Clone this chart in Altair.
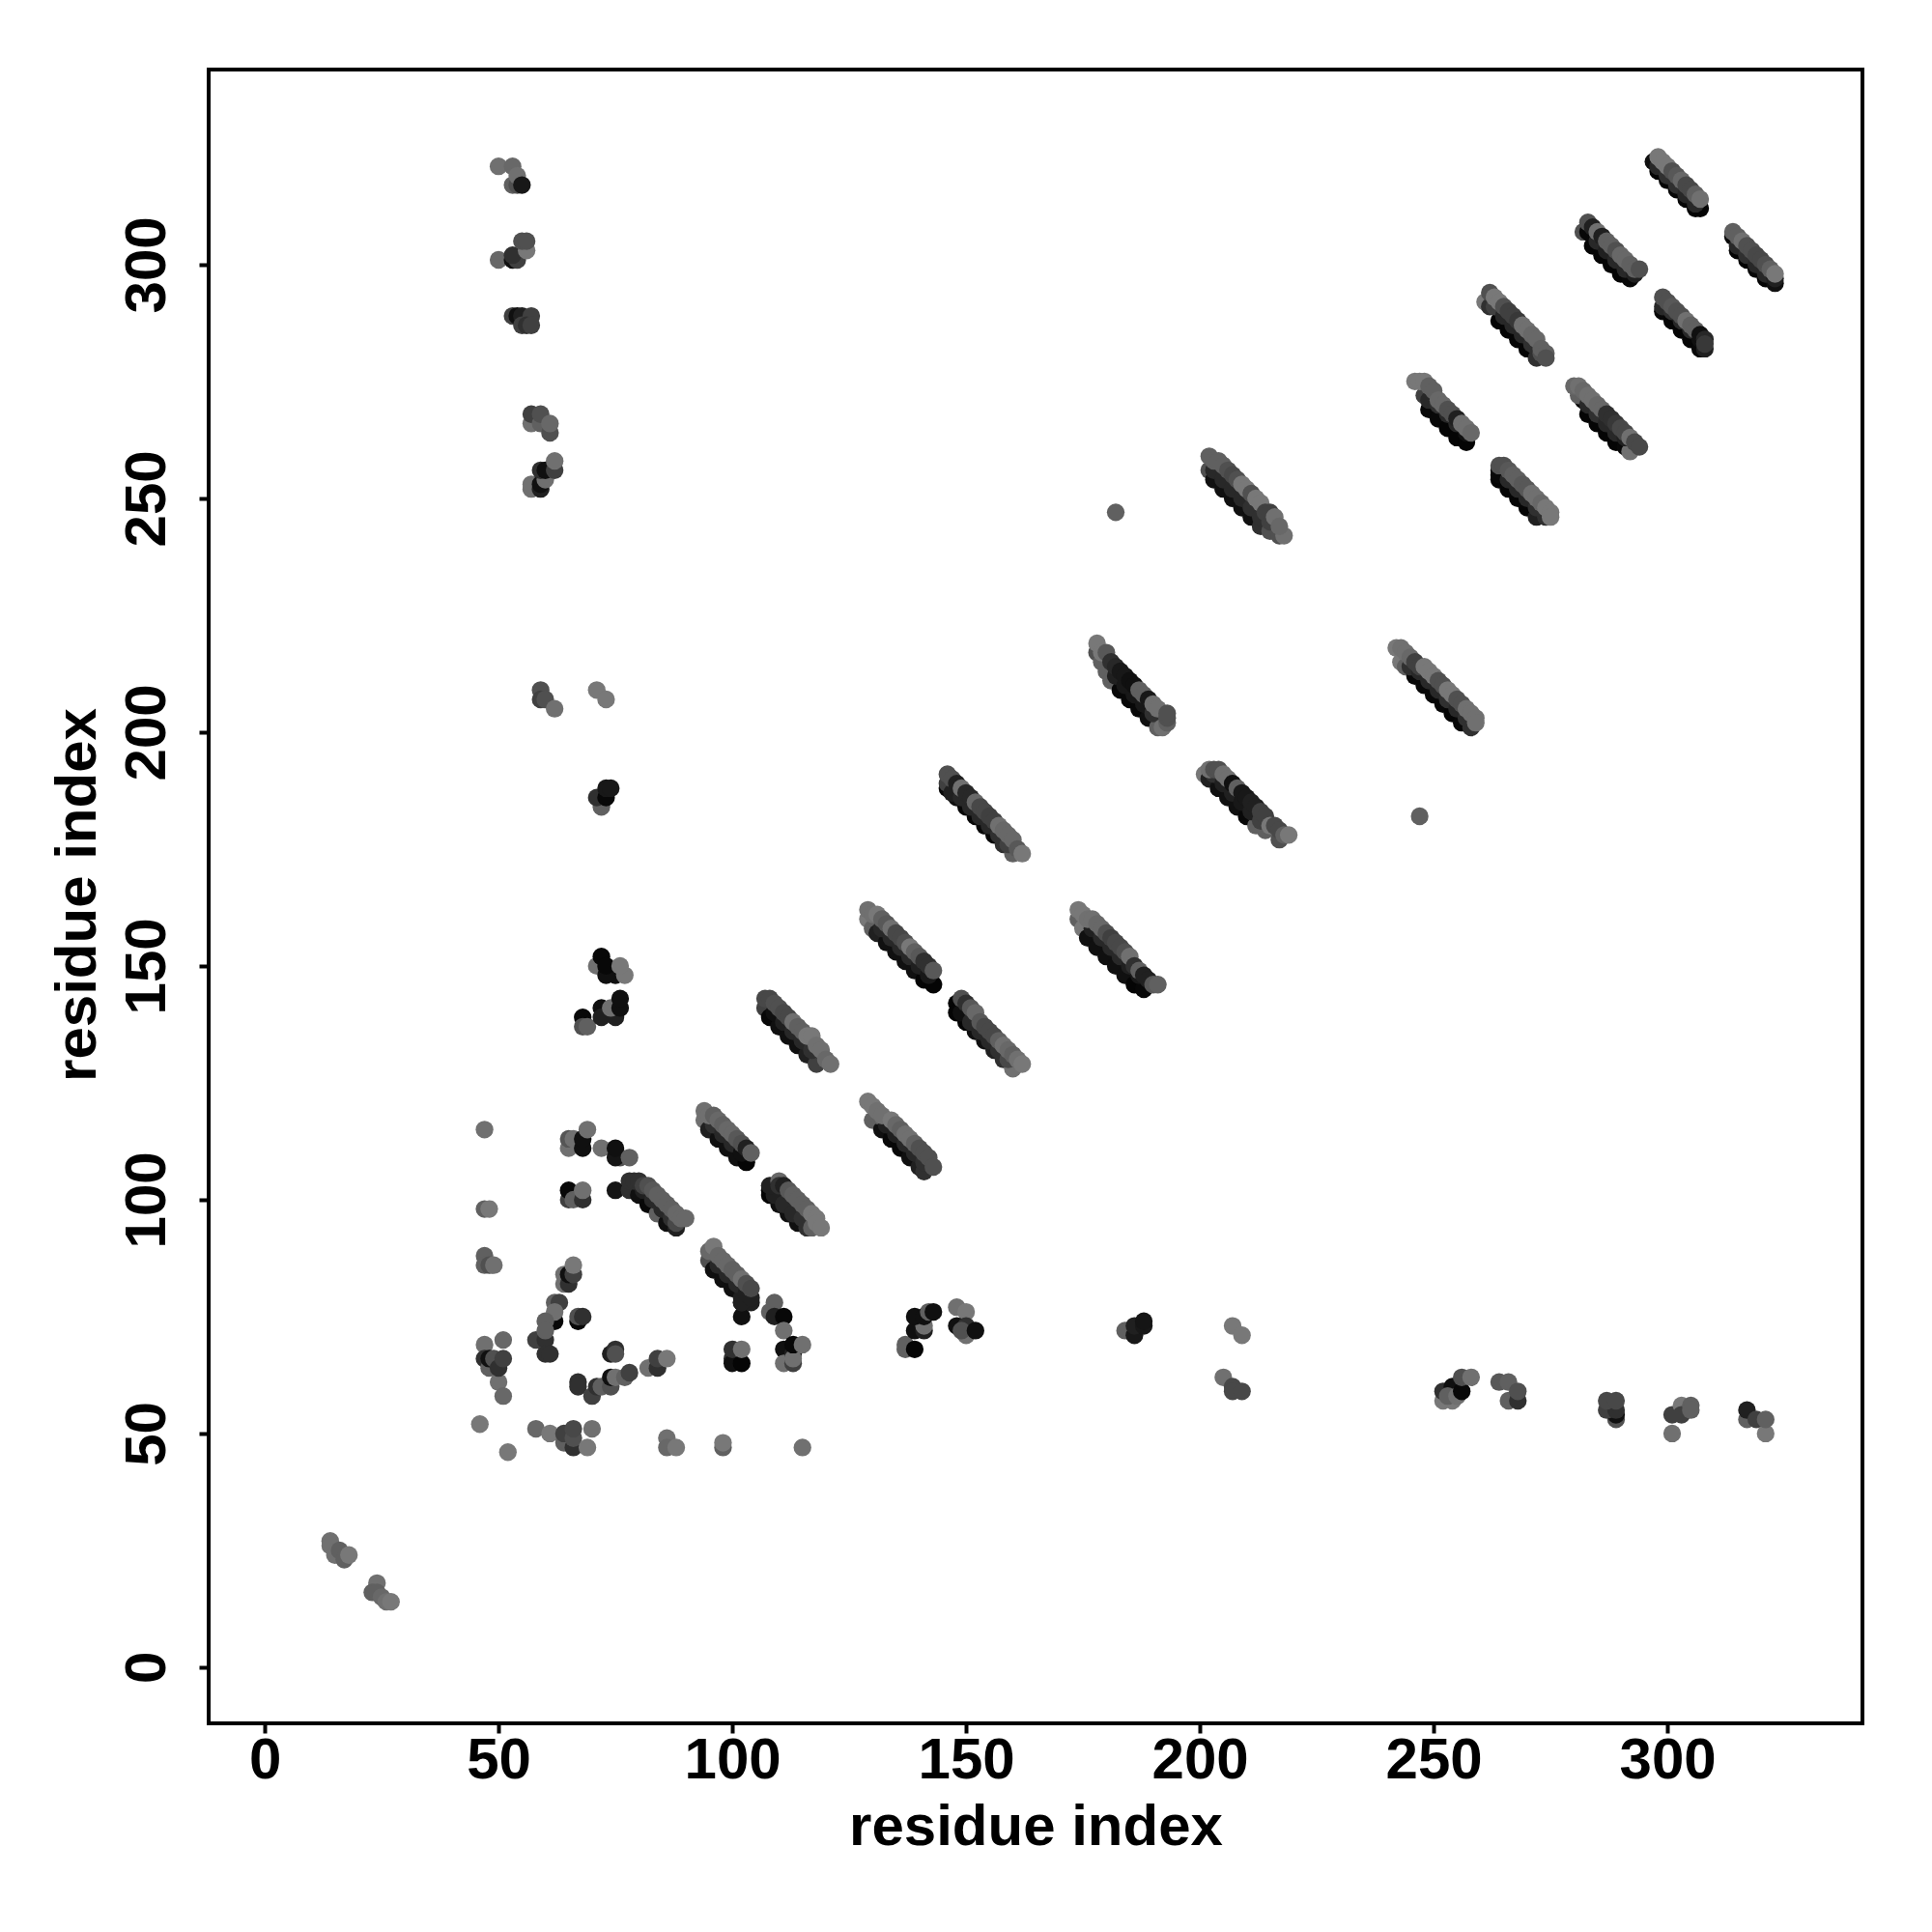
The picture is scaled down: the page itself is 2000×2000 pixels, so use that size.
import altair as alt
import pandas as pd

# every row: residue x, residue y, gray level of the point
near_origin = [(14,27,0x70),(14,26,0x70),(15,24,0x70),(16,25,0x60),(17,23,0x60),(18,24,0x78),
               (24,18,0x70),(23,16,0x60),(24,16,0x60),(25,15,0x68),(26,14,0x70),(27,14,0x78)]
scatter_low = [(47,115,0x70),(65,111,0x70),(65,113,0x55),(66,113,0x70),(68,111,0x10),(68,113,0x10),(69,115,0x70),
               (72,111,0x70),(76,109,0x50),(75,109,0x15),(75,111,0x10),(78,109,0x60),
               (65,100,0x40),(65,102,0x08),(66,100,0x60),(68,100,0x30),(68,102,0x70),(75,102,0x15),
               (47,98,0x60),(48,98,0x78),(47,88,0x60),(47,86,0x60),(48,86,0x50),(49,86,0x70),
               (64,84,0x70),(64,82,0x70),(65,82,0x30),(65,84,0x10),(66,84,0x40),(66,86,0x78),
               (62,74,0x08),(62,78,0x60),(63,78,0x40),(62,76,0x70),(58,70,0x40),(60,70,0x30),(60,74,0x60),(60,72,0x60),
               (60,67,0x30),(61,67,0x30),(67,74,0x08),(67,75,0x50),(68,75,0x30),
               (47,69,0x70),(51,70,0x68),(47,66,0x30),(48,64,0x60),(48,66,0x10),(49,66,0x50),(50,61,0x70),(51,58,0x68),(50,64,0x30),(51,66,0x40),
               (46,52,0x78),(52,46,0x78),(58,51,0x68),(61,50,0x78),(64,48,0x60),(65,48,0x60),(64,50,0x40),(66,47,0x30),(66,49,0x50),(66,51,0x48),(70,51,0x70),(69,47,0x78),
               (67,61,0x30),(67,60,0x30),(70,58,0x40),(71,60,0x30),(72,60,0x60),(74,60,0x50),(74,62,0x10),(75,62,0x70),(77,62,0x60),(78,63,0x40),
               (82,64,0x70),(84,64,0x30),(84,66,0x40),(86,66,0x78),(74,67,0x20),(75,68,0x30),(75,67,0x50),
               (86,49,0x70),(86,47,0x68),(88,47,0x78),(98,47,0x60),(98,48,0x78),(115,47,0x70),
               (100,66,0x30),(100,65,0x10),(102,65,0x05),(100,68,0x30),(102,68,0x70),(102,75,0x10),(102,78,0x20),(104,78,0x20),
               (108,76,0x60),(109,78,0x60),(109,75,0x20),(111,75,0x08),(111,72,0x70),
               (111,68,0x10),(111,65,0x70),(113,65,0x40),(113,67,0x20),(113,66,0x70),(113,69,0x08),(115,69,0x70)]
scatter_mid = [(137,69,0x60),(137,68,0x60),(139,68,0x05),(139,72,0x10),(141,72,0x20),(141,73,0x70),(139,75,0x10),(141,75,0x10),(142,76,0x60),(143,76,0x10),
               (148,77,0x70),(150,76,0x78),(150,71,0x70),(148,73,0x10),(150,73,0x30),(149,72,0x50),(152,72,0x10),
               (184,72,0x60),(186,71,0x18),(186,73,0x20),(188,73,0x18),(188,74,0x15),
               (207,73,0x78),(209,71,0x78),(205,62,0x70),(207,60,0x48),(207,59,0x48),(209,59,0x48),
               (182,247,0x60),(247,182,0x60)]
scatter_right = [(252,57,0x78),(254,57,0x78),(252,59,0x30),(254,60,0x10),(253,58,0x60),(255,58,0x70),(256,59,0x08),(256,62,0x50),(258,62,0x70),
                 (264,61,0x58),(266,61,0x60),(266,57,0x60),(268,57,0x30),(268,59,0x50),
                 (289,53,0x50),(289,54,0x10),(287,55,0x40),(289,55,0x30),(287,57,0x48),(289,57,0x48),
                 (301,50,0x70),(301,54,0x40),(303,56,0x78),(303,54,0x40),(305,56,0x60),(305,55,0x60),
                 (317,53,0x60),(317,55,0x20),(319,53,0x40),(321,50,0x78),(321,53,0x60)]
scatter_column = [(59,209,0x50),(59,207,0x40),(60,207,0x50),(62,205,0x70),(71,209,0x78),(73,207,0x78),
                  (72,184,0x60),(71,186,0x30),(73,186,0x08),(73,188,0x18),(74,188,0x18),
                  (71,150,0x70),(72,152,0x08),(75,148,0x10),(73,148,0x10),(73,150,0x08),(77,148,0x78),(76,150,0x78),
                  (68,139,0x08),(68,137,0x50),(69,137,0x60),(72,141,0x10),(72,139,0x20),(75,139,0x20),(74,141,0x70),(76,141,0x10),(76,143,0x10)]
scatter_top = [(50,321,0x70),(53,317,0x60),(54,317,0x50),(53,321,0x68),(54,319,0x70),(55,317,0x18),
               (50,301,0x68),(53,301,0x10),(54,301,0x40),(53,302,0x30),(56,303,0x78),(55,305,0x50),(56,305,0x50),
               (53,289,0x40),(54,289,0x10),(55,289,0x20),(57,289,0x40),(55,287,0x40),(56,287,0x30),(57,287,0x40),
               (57,266,0x70),(57,268,0x40),(59,266,0x60),(59,268,0x50),(61,264,0x50),(61,266,0x68),
               (57,252,0x70),(57,253,0x70),(59,252,0x20),(59,253,0x10),(60,254,0x70),(59,256,0x30),(60,256,0x10),(62,256,0x40),(62,258,0x70)]

# diagonal bands: dark lower edge first, then the row along the upper edge
band_01 = [(297,322,0x10),(298,320,0x05),(300,318,0x05),(302,316,0x08),(304,314,0x08),(306,312,0x05),(307,312,0x05),
           (298,321,0x28),(300,319,0x30),(302,317,0x30),(304,315,0x28),(306,313,0x28),
           (298,323,0x78),(299,322,0x78),(300,321,0x78),(301,320,0x50),(302,319,0x58),(303,318,0x68),(304,317,0x48),(305,316,0x48),(306,315,0x60),(307,314,0x70)]
band_02 = [(314,306,0x08),(315,303,0x05),(317,301,0x05),(319,299,0x08),(321,297,0x05),(323,296,0x10),
           (315,304,0x28),(317,302,0x30),(319,300,0x28),(321,298,0x28),(323,297,0x20),
           (314,307,0x60),(315,306,0x60),(316,305,0x70),(317,304,0x50),(318,303,0x50),(319,302,0x48),(320,301,0x48),(321,300,0x50),(322,299,0x60),(323,298,0x78)]
band_03 = [(282,307,0x50),(284,304,0x05),(286,302,0x05),(288,300,0x05),(290,298,0x05),(292,297,0x08),
           (283,307,0x08),(285,305,0x28),(287,303,0x20),(289,301,0x28),(291,299,0x28),(293,298,0x20),
           (283,309,0x50),(284,308,0x20),(285,307,0x70),(286,306,0x20),(287,305,0x60),(288,304,0x60),(289,303,0x50),(290,302,0x68),(291,301,0x68),(292,300,0x60),(293,299,0x60),(294,299,0x50)]
band_04 = [(299,290,0x08),(301,288,0x05),(303,286,0x05),(305,284,0x05),(307,282,0x08),(308,282,0x20),
           (299,291,0x28),(301,290,0x30),(303,288,0x28),(305,286,0x28),(307,284,0x10),
           (299,293,0x50),(300,292,0x50),(301,291,0x58),(302,290,0x50),(303,289,0x50),(304,288,0x70),(305,287,0x60),(306,286,0x60),(307,285,0x10),(308,284,0x28),(308,283,0x38)]
band_05 = [(261,292,0x78),(262,291,0x30),(264,288,0x05),(266,286,0x05),(268,284,0x05),(270,282,0x05),(272,280,0x30),
           (263,291,0x40),(265,289,0x28),(267,287,0x28),(269,285,0x28),(271,283,0x30),(273,281,0x50),
           (262,294,0x50),(263,293,0x78),(264,292,0x78),(265,291,0x50),(266,290,0x40),(267,289,0x40),(268,288,0x38),(269,287,0x70),(270,286,0x70),(271,285,0x68),(272,284,0x68),(273,282,0x60),(274,281,0x60),(274,280,0x50)]
band_06 = [(282,271,0x05),(283,268,0x05),(285,266,0x05),(287,264,0x05),(289,262,0x05),(291,261,0x08),(292,260,0x70),
           (281,272,0x60),(283,270,0x28),(285,268,0x30),(287,266,0x28),(289,264,0x28),(291,263,0x20),
           (280,274,0x68),(281,274,0x70),(282,273,0x68),(283,272,0x70),(284,271,0x70),(285,270,0x68),(286,269,0x68),(287,268,0x30),(288,267,0x30),(289,266,0x38),(290,265,0x48),(291,264,0x48),(292,263,0x70),(293,262,0x48),(294,261,0x48)]
band_07 = [(248,272,0x40),(249,269,0x08),(251,267,0x08),(253,265,0x05),(255,263,0x05),(257,262,0x05),
           (249,271,0x28),(251,270,0x30),(253,268,0x28),(255,266,0x28),(257,264,0x10),
           (246,275,0x78),(247,275,0x78),(248,275,0x78),(249,274,0x60),(250,273,0x60),(251,271,0x68),(252,270,0x68),(253,269,0x50),(254,268,0x50),(255,267,0x20),(256,266,0x70),(257,265,0x70),(258,264,0x68)]
band_08 = [(264,256,0x05),(264,254,0x05),(266,252,0x05),(268,250,0x05),(270,248,0x05),(272,246,0x20),(274,246,0x30),
           (264,255,0x08),(266,254,0x28),(268,252,0x28),(270,250,0x28),(272,248,0x30),
           (264,257,0x50),(265,257,0x50),(266,256,0x58),(267,255,0x60),(268,254,0x60),(269,253,0x58),(270,252,0x58),(271,251,0x70),(272,250,0x70),(273,249,0x68),(274,248,0x78),(275,247,0x78),(275,246,0x78)]
band_09 = [(202,256,0x50),(203,254,0x10),(205,252,0x10),(207,250,0x10),(209,248,0x10),(211,246,0x10),(213,244,0x30),(215,243,0x50),(217,242,0x50),
           (203,256,0x28),(205,254,0x28),(207,252,0x28),(209,250,0x28),(211,248,0x30),(213,246,0x30),(215,245,0x40),
           (202,259,0x60),(203,258,0x60),(204,258,0x60),(205,257,0x60),(206,256,0x50),(207,255,0x48),(208,254,0x50),(209,253,0x78),(210,252,0x78),(211,251,0x50),(212,250,0x78),(213,249,0x78),(214,247,0x40),(215,247,0x40),(218,242,0x70),(216,246,0x70),(217,244,0x68)]
band_10 = [(243,215,0x78),(244,214,0x60),(246,212,0x08),(248,210,0x08),(250,208,0x08),(252,206,0x08),(254,204,0x05),(256,202,0x08),(258,201,0x30),
           (245,214,0x30),(247,213,0x28),(249,211,0x28),(251,209,0x28),(253,207,0x30),(255,205,0x28),(257,203,0x30),
           (242,218,0x78),(243,218,0x70),(244,217,0x70),(245,216,0x68),(246,215,0x40),(247,214,0x40),(248,214,0x78),(249,213,0x78),(250,212,0x78),(251,211,0x50),(252,210,0x50),(253,209,0x78),(254,208,0x78),(255,207,0x50),(256,206,0x50),(257,205,0x70),(258,204,0x70),(259,203,0x70),(259,202,0x70)]
band_11 = [(178,217,0x50),(179,215,0x60),(180,213,0x60),(181,211,0x60),(183,209,0x08),(185,207,0x08),(187,205,0x08),(189,203,0x10),(191,201,0x60),
           (182,212,0x20),(184,210,0x18),(186,208,0x18),(188,206,0x18),(190,204,0x30),
           (178,219,0x78),(179,217,0x78),(180,217,0x58),(181,215,0x30),(182,214,0x28),(183,213,0x18),(184,212,0x18),(185,211,0x10),(186,210,0x10),(187,209,0x60),(188,208,0x60),(189,207,0x18),(190,206,0x70),(191,205,0x70),(192,201,0x70),(193,202,0x60),(193,203,0x50),(193,204,0x50)]
band_12 = [(201,191,0x78),(202,190,0x20),(204,188,0x10),(206,186,0x10),(208,184,0x10),(210,182,0x08),(212,180,0x60),(214,179,0x60),(217,177,0x50),
           (203,191,0x30),(205,189,0x20),(207,187,0x20),(209,185,0x18),(211,183,0x20),(213,181,0x40),
           (202,192,0x70),(203,192,0x50),(204,192,0x50),(205,191,0x70),(206,190,0x70),(207,189,0x10),(208,188,0x60),(209,187,0x18),(210,186,0x18),(211,185,0x20),(212,184,0x20),(213,183,0x40),(214,182,0x40),(215,180,0x78),(216,180,0x48),(217,179,0x48),(218,178,0x60),(219,178,0x78)]
band_13 = [(146,188,0x08),(148,186,0x10),(150,184,0x08),(152,182,0x08),(154,180,0x08),(156,178,0x08),(158,176,0x30),(160,174,0x60),
           (146,189,0x40),(147,187,0x20),(149,186,0x28),(151,184,0x28),(153,182,0x28),(155,180,0x28),(157,178,0x30),(159,176,0x40),
           (146,191,0x50),(147,190,0x50),(148,189,0x20),(149,188,0x70),(150,187,0x28),(151,186,0x28),(152,185,0x68),(153,184,0x48),(154,183,0x48),(155,182,0x40),(156,181,0x40),(157,180,0x70),(158,179,0x68),(159,178,0x68),(160,177,0x68),(161,175,0x58),(162,174,0x78)]
band_14 = [(174,160,0x60),(175,158,0x78),(176,156,0x10),(178,154,0x10),(180,152,0x10),(182,150,0x10),(184,148,0x10),(186,146,0x05),(188,145,0x08),
           (177,158,0x20),(179,156,0x28),(181,154,0x28),(183,152,0x28),(185,150,0x20),(187,148,0x18),
           (174,162,0x78),(175,161,0x78),(176,160,0x70),(177,160,0x70),(178,159,0x68),(179,158,0x68),(180,157,0x50),(181,156,0x40),(182,155,0x48),(183,154,0x48),(184,153,0x50),(185,152,0x70),(186,150,0x30),(187,149,0x60),(188,148,0x20),(189,147,0x20),(190,146,0x58),(191,146,0x60)]
band_15 = [(129,160,0x78),(130,158,0x60),(131,157,0x20),(133,155,0x10),(135,153,0x10),(137,151,0x10),(139,149,0x10),(141,147,0x05),(143,146,0x05),
           (132,158,0x28),(134,156,0x28),(136,154,0x28),(138,152,0x28),(140,150,0x20),(142,148,0x18),
           (129,162,0x70),(130,161,0x70),(131,161,0x78),(132,160,0x60),(133,159,0x58),(134,158,0x70),(135,157,0x48),(136,156,0x48),(137,155,0x50),(138,154,0x78),(139,153,0x60),(140,152,0x58),(141,151,0x30),(142,150,0x30),(143,149,0x58)]
band_16 = [(148,142,0x05),(148,140,0x05),(150,138,0x05),(152,136,0x10),(154,134,0x10),(156,132,0x20),(158,130,0x30),(160,128,0x70),
           (149,140,0x10),(151,138,0x28),(153,136,0x28),(155,134,0x28),(157,132,0x30),(159,130,0x48),
           (149,143,0x50),(150,142,0x30),(151,141,0x58),(152,140,0x68),(153,138,0x58),(154,137,0x48),(155,136,0x48),(156,135,0x48),(157,134,0x60),(158,133,0x70),(159,132,0x68),(160,131,0x60),(161,130,0x70),(162,129,0x78)]
band_17 = [(107,141,0x40),(108,139,0x08),(110,137,0x10),(112,135,0x10),(114,133,0x10),(116,131,0x20),(118,129,0x40),
           (109,140,0x10),(111,138,0x20),(113,136,0x28),(115,134,0x28),(117,132,0x30),
           (107,143,0x48),(108,143,0x48),(109,142,0x50),(110,141,0x50),(111,140,0x48),(112,139,0x48),(113,138,0x70),(114,137,0x60),(115,136,0x60),(116,135,0x78),(117,135,0x78),(118,133,0x70),(119,132,0x70),(120,130,0x68),(121,129,0x70)]
band_18 = [(130,117,0x60),(132,115,0x10),(134,113,0x08),(136,111,0x08),(138,109,0x10),(140,107,0x20),(141,106,0x30),
           (131,118,0x60),(133,116,0x20),(135,114,0x20),(137,112,0x28),(139,110,0x28),(141,108,0x30),
           (129,121,0x78),(130,120,0x78),(131,119,0x70),(132,118,0x70),(134,117,0x78),(135,116,0x68),(136,115,0x60),(137,114,0x70),(138,113,0x70),(139,112,0x60),(140,111,0x50),(141,110,0x50),(142,109,0x50),(143,107,0x50)]
band_19 = [(94,117,0x70),(95,115,0x20),(97,113,0x10),(99,111,0x10),(101,109,0x10),(103,108,0x05),
           (96,116,0x30),(98,114,0x28),(100,112,0x28),(102,110,0x10),
           (94,119,0x70),(95,118,0x70),(96,118,0x60),(97,117,0x68),(98,116,0x60),(99,115,0x68),(100,114,0x68),(101,113,0x58),(102,112,0x50),(103,111,0x20),(104,110,0x60)]
band_20 = [(108,102,0x05),(108,101,0x05),(110,99,0x10),(112,97,0x10),(114,95,0x10),(116,94,0x30),
           (109,101,0x20),(111,99,0x28),(113,97,0x28),(115,96,0x30),(117,94,0x60),
           (108,103,0x20),(110,104,0x68),(110,103,0x30),(111,103,0x20),(112,102,0x58),(113,101,0x60),(114,100,0x60),(115,99,0x60),(116,98,0x60),(117,97,0x78),(118,96,0x78),(118,95,0x78),(119,94,0x78)]
band_21 = [(78,102,0x30),(80,101,0x10),(82,99,0x08),(84,97,0x60),(86,95,0x10),(88,94,0x20),
           (81,102,0x20),(83,100,0x28),(85,98,0x28),(87,96,0x30),
           (78,104,0x30),(79,104,0x30),(80,104,0x30),(81,103,0x40),(82,103,0x50),(83,102,0x58),(84,101,0x60),(85,100,0x60),(86,99,0x60),(87,98,0x60),(88,95,0x48),(88,97,0x68),(89,96,0x68),(90,96,0x68)]
band_22 = [(95,87,0x50),(96,85,0x10),(98,83,0x10),(100,81,0x10),(102,79,0x20),(102,78,0x20),
           (97,86,0x28),(99,84,0x28),(101,82,0x28),(103,80,0x20),(104,79,0x20),
           (95,89,0x68),(96,90,0x78),(97,88,0x68),(98,87,0x68),(99,86,0x68),(100,85,0x60),(101,84,0x60),(102,83,0x70),(103,82,0x50),(104,81,0x48)]

groups = [near_origin, scatter_low, scatter_mid, scatter_right, scatter_column, scatter_top,
          band_01, band_02, band_03, band_04, band_05, band_06, band_07, band_08, band_09, band_10, band_11,
          band_12, band_13, band_14, band_15, band_16, band_17, band_18, band_19, band_20, band_21, band_22]
tick_values = [0, 50, 100, 150, 200, 250, 300]

rows = []
for group in groups:
    for x, y, g in group:
        rows.append({"x": x, "y": y, "shade": f"#{g:02x}{g:02x}{g:02x}", "order": len(rows)})
df = pd.DataFrame(rows)

FONT = "Liberation Sans"
SIZE = 60
domain = [-12, 341.7]

x_axis = alt.Axis(values=tick_values, grid=False, domain=False, tickSize=10, tickWidth=4, tickColor="black",
                  labelFont=FONT, labelFontSize=SIZE, labelFontWeight="bold", labelColor="black",
                  labelPadding=46, labelBaseline="alphabetic", labelAlign="center", labelAngle=0, labelFlush=False, labelOverlap=False,
                  title="residue index", titleFont=FONT, titleFontSize=SIZE, titleFontWeight="bold", titleColor="black",
                  titleX=856, titleY=125, titleBaseline="alphabetic", titleAlign="center")
y_axis = alt.Axis(values=tick_values, grid=False, domain=False, tickSize=10, tickWidth=4, tickColor="black",
                  labelFont=FONT, labelFontSize=SIZE, labelFontWeight="bold", labelColor="black",
                  labelPadding=36, labelBaseline="alphabetic", labelAlign="center", labelAngle=270, labelFlush=False, labelOverlap=False,
                  title="residue index", titleFont=FONT, titleFontSize=SIZE, titleFontWeight="bold", titleColor="black",
                  titleX=-118, titleY=854, titleBaseline="alphabetic", titleAlign="center", titleAngle=270)

chart = (
    alt.Chart(df)
    .mark_circle(size=335, opacity=1)
    .encode(
        x=alt.X("x:Q", scale=alt.Scale(domain=domain, nice=False, zero=False), axis=x_axis),
        y=alt.Y("y:Q", scale=alt.Scale(domain=domain, nice=False, zero=False), axis=y_axis),
        color=alt.Color("shade:N", scale=None),
        order=alt.Order("order:Q"),
    )
    .properties(
        width=1712, height=1712,
        padding={"left": 208, "top": 64, "right": 60, "bottom": 200},
        autosize=alt.AutoSizeParams(type="none"),
        background="white",
    )
    .configure_view(stroke="black", strokeWidth=4, fill="white")
)
chart.save("out.html", embed_options={"renderer": "svg", "actions": False})
